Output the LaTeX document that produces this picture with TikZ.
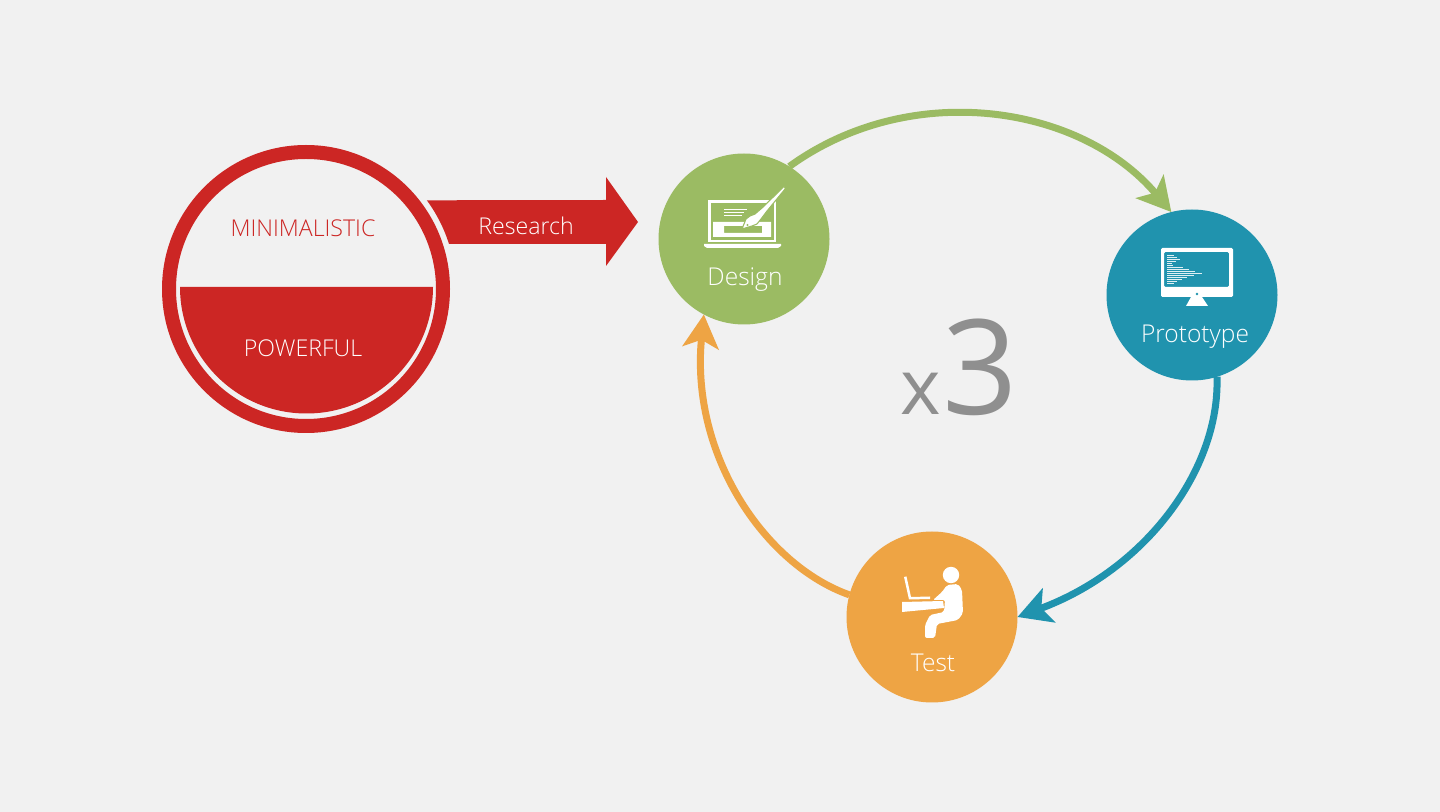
\documentclass[tikz,border=0pt]{standalone}
\usepackage{fontspec}
\setmainfont{Open Sans}
\newfontfamily\lightfont{Open Sans Light}
\usetikzlibrary{arrows.meta}
\definecolor{paper}{HTML}{F1F1F1}
\definecolor{redmain}{HTML}{CC2624}
\definecolor{greenmain}{HTML}{9BBB63}
\definecolor{tealmain}{HTML}{2093AE}
\definecolor{orangemain}{HTML}{EEA444}
\definecolor{graymain}{HTML}{8F8F8F}
\tikzset{
	stage/.style={circle,minimum size=128.25pt,inner sep=0pt,outer sep=0pt},
	flow/.style={line width=5.25pt,-{Stealth[length=25pt,width=27pt,inset=6pt]}},
	caption/.style={text=white,font=\lightfont\fontsize{18.4}{20}\selectfont,inner sep=0pt},
	redcaption/.style={font=\lightfont\fontsize{17.35}{20}\selectfont,inner sep=0pt},
	bigmark/.style={text=graymain,anchor=base,inner sep=0pt},
	icon/.style={fill=white,draw=none},
}
\begin{document}
\begin{tikzpicture}[x=0.75pt,y=0.75pt,yscale=-1,xscale=1]
	\useasboundingbox (0,0) rectangle (1440,812);
	\fill[paper] (0,0) rectangle (1440,812);

	%Left circle
	\node[circle,draw=redmain,line width=10.5pt,minimum size=205.5pt,inner sep=0pt] (ring) at (306,289) {};
	\fill[redmain] (180,287) arc[start angle=180,end angle=0,radius=126.5] -- cycle;
	\node[redcaption,text=redmain] (minimal) at (303,228) {MINIMALISTIC};
	\node[redcaption,text=white] (powerful) at (303,348) {POWERFUL};

	%Research arrow
	\fill[redmain] (449,244) arc[start angle=-17.5,end angle=-36.3,radius=150] -- (606,200) -- (606,177) -- (638,222) -- (606,266) -- (606,244) -- cycle;
	\node[redcaption,text=white] (research) at (526,226) {Research};

	%Stages
	\node[stage,fill=greenmain] (design) at (744,239) {};
	\node[stage,fill=tealmain] (prototype) at (1192,295) {};
	\node[stage,fill=orangemain] (test) at (932,617) {};
	\node[caption] (designlabel) at (745,280) {Design};
	\node[caption] (prototypelabel) at (1195,337) {Prototype};
	\node[caption] (testlabel) at (933,663) {Test};

	%Cycle arcs
	\draw[flow,greenmain] (design.58) .. controls (910,79) and (1080,104) .. (prototype.104);
	\draw[flow,tealmain] (prototype.-73) .. controls (1220,470) and (1145,570) .. (test.east);
	\draw[flow,orangemain] (test.165) .. controls (765,565) and (690,455) .. (design.242);

	%x3
	\node[bigmark,font=\fontsize{58}{58}\selectfont] (times) at (921,415) {x};
	\node[bigmark,font=\fontsize{99}{99}\selectfont] (three) at (980,415) {3};

	%Design icon
	\draw[white,line width=1.9pt] (709.5,201.5) rectangle (775,241);
	\fill[icon] (704,244) -- (781,244) -- (781,246) -- (778,248) -- (707,248) -- (704,246) -- cycle;
	\fill[icon,even odd rule] (713,222) rectangle (771,237) (724,226) rectangle (762,233);
	\foreach \y/\l in {209.5/23,212.5/20,215.5/18}
		\draw[white,line width=0.9pt] (724,\y) -- ++(\l,0);
	\fill[icon,draw=greenmain,line width=0.8pt] (784,186.5) -- (785.5,188.5) -- (767,211) -- (761,219) -- (757,224) -- (752,226) -- (742,229) -- (746,219) -- (750,216) -- (755,214) -- (762,208) -- cycle;
	\fill[greenmain] (747.5,225) circle (1.1);

	%Prototype icon
	\fill[icon,even odd rule,rounded corners=1pt] (1161,248) rectangle (1233,297) (1164,252) rectangle (1229,287);
	\fill[icon] (1191,297) -- (1202,297) -- (1208,306) -- (1186,306) -- cycle;
	\fill[tealmain] (1197,294) circle (1.3);
	\foreach \i/\l in {0/7,1/10,2/13,3/9,4/5,5/6,6/16,7/22,8/28,9/35,10/27,11/20,12/15,13/10,14/7}
		\draw[white!85!tealmain,line width=0.7pt] (1167,255+2*\i) -- ++(\l,0);

	%Test icon
	\fill[icon] (951,575) circle (8.2);
	\fill[icon] (904,577) -- (906.5,576.5) -- (911,597) -- (930,596.5) -- (930,599) -- (909,599.5) -- cycle;
	\fill[icon] (902,602) -- (943,601) -- (944,608) -- (902,612) -- cycle;
	\fill[icon,rounded corners=1.5pt] (933,600) -- (942,592) -- (947,585) -- (958,584) -- (962,590) -- (963,613) -- (958,620) -- (937,624) -- (935,638) -- (925,638) -- (925,625) -- (930,615) -- (944,612) -- (945,600) -- cycle;
\end{tikzpicture}
\end{document}
